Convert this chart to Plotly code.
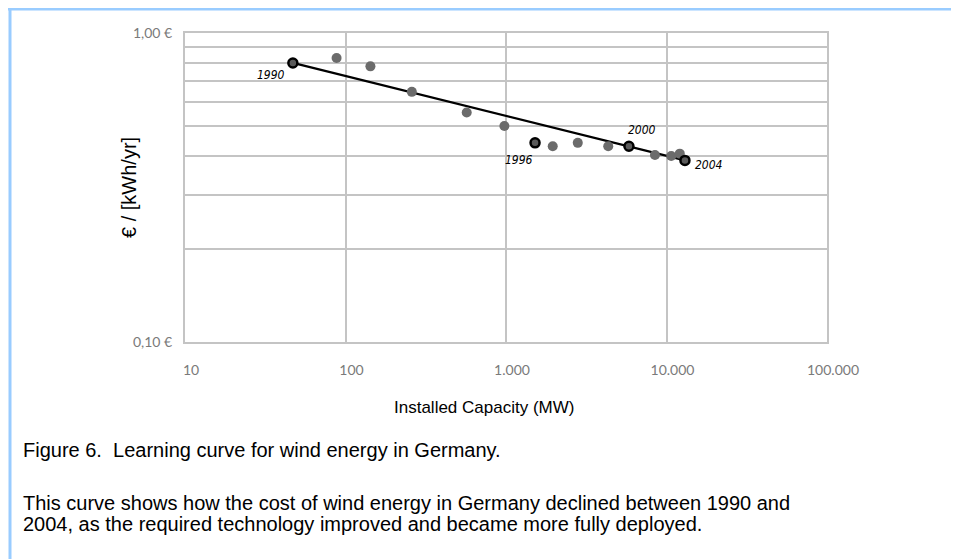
import math
import plotly.graph_objects as go

# ---- data ----
grey_capacity = [88, 143, 259, 569, 977, 1955, 2800, 4335, 8474, 10700, 12100]
grey_cost = [0.83, 0.78, 0.645, 0.553, 0.50, 0.43, 0.441, 0.43, 0.403, 0.40, 0.407]

year_labels = ["1990", "1996", "2000", "2004"]
year_capacity = [47, 1517, 5834, 13030]
year_cost = [0.80, 0.441, 0.43, 0.387]

trend_capacity = [47, 13030]
trend_cost = [0.80, 0.387]

x_tickvals = [10, 100, 1000, 10000, 100000]
x_ticktext = ["10", "100", "1.000", "10.000", "100.000"]
y_tickvals = [0.1, 0.2, 0.3, 0.4, 0.5, 0.6, 0.7, 0.8, 0.9, 1.0]
y_ticktext = ["0,10 €", "", "", "", "", "", "", "", "", "1,00 €"]

# page body margin offset (the page is shifted by 8px)
OFF = 8
W, H = 959 - OFF, 559 - OFF
L, T = 185 - OFF, 33 - OFF
R = W - (827 - OFF)
B = H - (342 - OFF)
pw, ph = W - L - R, H - T - B


def px(sx):
    return (sx - OFF - L) / pw


def py(sy):
    return (H - B - (sy - OFF)) / ph


fig = go.Figure()

fig.add_trace(go.Scatter(
    x=trend_capacity, y=trend_cost, mode="lines",
    line=dict(color="black", width=2.3), showlegend=False, hoverinfo="skip"))

fig.add_trace(go.Scatter(
    x=grey_capacity, y=grey_cost, mode="markers",
    marker=dict(color="#6b6b6b", size=10, line=dict(width=0)), showlegend=False))

fig.add_trace(go.Scatter(
    x=year_capacity, y=year_cost, mode="markers",
    marker=dict(color="#5a5a5a", size=9, line=dict(color="black", width=2.5)),
    showlegend=False))

label_offsets = {
    "1990": dict(xanchor="right", xshift=-6, yshift=-12),
    "1996": dict(xanchor="right", xshift=0, yshift=-17),
    "2000": dict(xanchor="left", xshift=-3, yshift=16),
    "2004": dict(xanchor="left", xshift=8, yshift=-5),
}
for lab, xv, yv in zip(year_labels, year_capacity, year_cost):
    o = label_offsets[lab]
    fig.add_annotation(x=math.log10(xv), y=math.log10(yv), xref="x", yref="y",
                       text="<i>" + lab + "</i>",
                       showarrow=False, xanchor=o["xanchor"], yanchor="middle",
                       xshift=o["xshift"], yshift=o["yshift"],
                       font=dict(family="DejaVu Sans Condensed", size=12, color="black"))

fig.update_xaxes(
    type="log", range=[1, 5], tickvals=x_tickvals, ticktext=x_ticktext,
    showgrid=True, gridcolor="#c4c4c4", gridwidth=2,
    showline=True, linecolor="#c4c4c4", linewidth=2, mirror=True,
    ticks="outside", ticklen=14, tickcolor="rgba(0,0,0,0)",
    ticklabelshift=6,
    tickfont=dict(family="Lato", size=14, color="#7a7a7a"), zeroline=False)
fig.update_yaxes(
    type="log", range=[-1, 0], tickvals=y_tickvals, ticktext=y_ticktext,
    showgrid=True, gridcolor="#c4c4c4", gridwidth=2,
    showline=True, linecolor="#c4c4c4", linewidth=2, mirror=True,
    ticks="outside", ticklen=8, tickcolor="rgba(0,0,0,0)",
    tickfont=dict(family="Lato", size=14, color="#7a7a7a"), zeroline=False)

# axis titles and caption (paper coordinates computed from screen pixels)
fig.add_annotation(x=px(129), y=py(188), xref="paper", yref="paper", text="€ / [kWh/yr]",
                   showarrow=False, textangle=-90, xanchor="center", yanchor="middle",
                   font=dict(family="Liberation Sans", size=20, color="black"))
fig.add_annotation(x=px(484), y=py(408), xref="paper", yref="paper",
                   text="Installed Capacity (MW)", showarrow=False,
                   xanchor="center", yanchor="middle",
                   font=dict(family="Liberation Sans", size=17, color="black"))
caption_lines = [
    ("Figure 6.  Learning curve for wind energy in Germany.", 450),
    ("This curve shows how the cost of wind energy in Germany declined between 1990 and", 503),
    ("2004, as the required technology improved and became more fully deployed.", 524),
]
for txt, sy in caption_lines:
    fig.add_annotation(x=px(21), y=py(sy), xref="paper", yref="paper", text=txt,
                       showarrow=False, xanchor="left", yanchor="middle",
                       font=dict(family="Liberation Sans", size=20, color="black"))

# light blue frame (top and left)
fig.add_shape(type="line", xref="paper", yref="paper", x0=px(OFF), x1=px(959), y0=py(9), y1=py(9),
              line=dict(color="#99ccff", width=3))
fig.add_shape(type="line", xref="paper", yref="paper", x0=px(10), x1=px(10), y0=py(9), y1=py(559),
              line=dict(color="#99ccff", width=3))

fig.update_layout(
    width=W, height=H, margin=dict(l=L, r=R, t=T, b=B),
    paper_bgcolor="white", plot_bgcolor="white", showlegend=False)

fig.write_html("out.html")
